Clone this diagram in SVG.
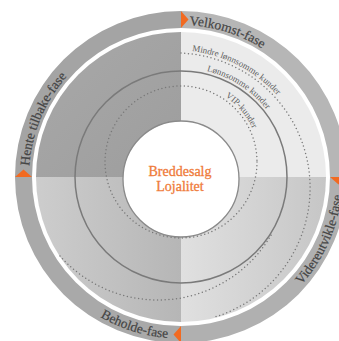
<svg xmlns="http://www.w3.org/2000/svg" width="339" height="341" viewBox="0 0 339 341">
  <defs>
    <style>
      .band-label { font-family: "Liberation Serif", "Times New Roman", serif; font-size: 13.5px; fill: #454545; stroke: #454545; stroke-width: 0.2; }
      .tier-label { font-family: "Liberation Serif", "Times New Roman", serif; font-size: 9px; fill: #616161; }
      .core-label { font-family: "Liberation Serif", "Times New Roman", serif; font-size: 14px; fill: #ef7b3a; stroke: #ef7b3a; stroke-width: 0.3; text-anchor: middle; }
      .dotted { fill: none; stroke: #787878; stroke-width: 1.5; stroke-linecap: round; stroke-dasharray: 0 3.8; }
      .solid { fill: none; stroke: #7a7a7a; stroke-width: 1.5; }
      .arrow { fill: #f26a21; }
    </style>
    <linearGradient id="gTL" x1="0" y1="0" x2="1" y2="1">
      <stop offset="0" stop-color="#a9a9a9"/>
      <stop offset="1" stop-color="#9d9d9d"/>
    </linearGradient>
    <linearGradient id="gBL" x1="0" y1="0" x2="1" y2="0">
      <stop offset="0" stop-color="#cdcdcd"/>
      <stop offset="1" stop-color="#b6b6b6"/>
    </linearGradient>
    <linearGradient id="gBR" x1="0" y1="0" x2="1" y2="0">
      <stop offset="0" stop-color="#e0e0e0"/>
      <stop offset="1" stop-color="#c6c6c6"/>
    </linearGradient>
    <!-- baselines for curved labels -->
    <path id="pUpper" d="M29,177 A152,152 0 0 1 333,177"/>
    <path id="pLower" d="M19.5,177 A161.5,161.5 0 0 0 342.5,177"/>
    <path id="pMindre" d="M175,50 A138,138 0 0 1 313,188"/>
    <path id="pLonn" d="M181,68 A109,109 0 0 1 290,177"/>
    <path id="pVip" d="M181,83 A79,79 0 0 1 260,162"/>
  </defs>

  <rect width="339" height="341" fill="#ffffff"/>

  <!-- quadrant disk -->
  <g id="quadrants">
    <path d="M181,177 L36,177 A145,145 0 0 1 181,32 Z" fill="url(#gTL)"/>
    <path d="M181,177 L181,32 A145,145 0 0 1 326,177 Z" fill="#ebebeb"/>
    <path d="M181,177 L326,177 A145,145 0 0 1 181,322 Z" fill="url(#gBR)"/>
    <path d="M181,177 L181,322 A145,145 0 0 1 36,177 Z" fill="url(#gBL)"/>
  </g>

  <!-- outer phase ring -->
  <g id="phase-hente">
    <path d="M15,177 A166,166 0 0 1 181,11 L181,28 A149,149 0 0 0 32,177 Z" fill="#a4a4a4"/>
    <text class="band-label"><textPath href="#pUpper" startOffset="11">Hente tilbake-fase</textPath></text>
  </g>
  <g id="phase-velkomst">
    <path d="M181,11 A166,166 0 0 1 347,177 L330,177 A149,149 0 0 0 181,28 Z" fill="#b6b6b6"/>
    <text class="band-label"><textPath href="#pUpper" startOffset="247">Velkomst-fase</textPath></text>
  </g>
  <g id="phase-videreutvikle">
    <path d="M347,177 A166,166 0 0 1 181,343 L181,326 A149,149 0 0 0 330,177 Z" fill="#b0b0b0"/>
    <text class="band-label"><textPath href="#pLower" startOffset="389">Videreutvikle-fase</textPath></text>
  </g>
  <g id="phase-beholde">
    <path d="M181,343 A166,166 0 0 1 15,177 L32,177 A149,149 0 0 0 181,326 Z" fill="#a9a9a9"/>
    <text class="band-label"><textPath href="#pLower" startOffset="169">Beholde-fase</textPath></text>
  </g>

  <!-- phase transition markers -->
  <g id="connectors">
    <polygon class="arrow" points="181,11 188.5,19.5 181,28"/>
    <polygon class="arrow" points="330,177 347,177 338.5,184.5"/>
    <polygon class="arrow" points="181,326 181,343 173.5,334.5"/>
    <polygon class="arrow" points="15,177 32,177 23.5,169.5"/>
  </g>

  <!-- customer tiers -->
  <g id="tier-mindre">
    <path class="dotted" d="M181,53.1 A135,135 0 0 1 213.8,317.3"/>
    <path class="dotted" d="M60,256 A131,131 0 0 0 271.1,235.1"/>
    <text class="tier-label"><textPath href="#pMindre" startOffset="17">Mindre lønnsomme kunder</textPath></text>
  </g>
  <g id="tier-lonnsomme">
    <circle class="solid" cx="181" cy="177" r="106"/>
    <text class="tier-label"><textPath href="#pLonn" startOffset="26">Lønnsomme kunder</textPath></text>
  </g>

  <g id="core">
    <circle cx="181" cy="179" r="58" fill="#ffffff" stroke="#8a8a8a" stroke-width="1.3"/>
    <text class="core-label" x="180" y="176">Breddesalg</text>
    <text class="core-label" x="180" y="190.5">Lojalitet</text>
  </g>

  <g id="tier-vip">
    <circle class="dotted" cx="181" cy="162" r="76"/>
    <text class="tier-label"><textPath href="#pVip" startOffset="47">VIP-kunder</textPath></text>
  </g>
</svg>
